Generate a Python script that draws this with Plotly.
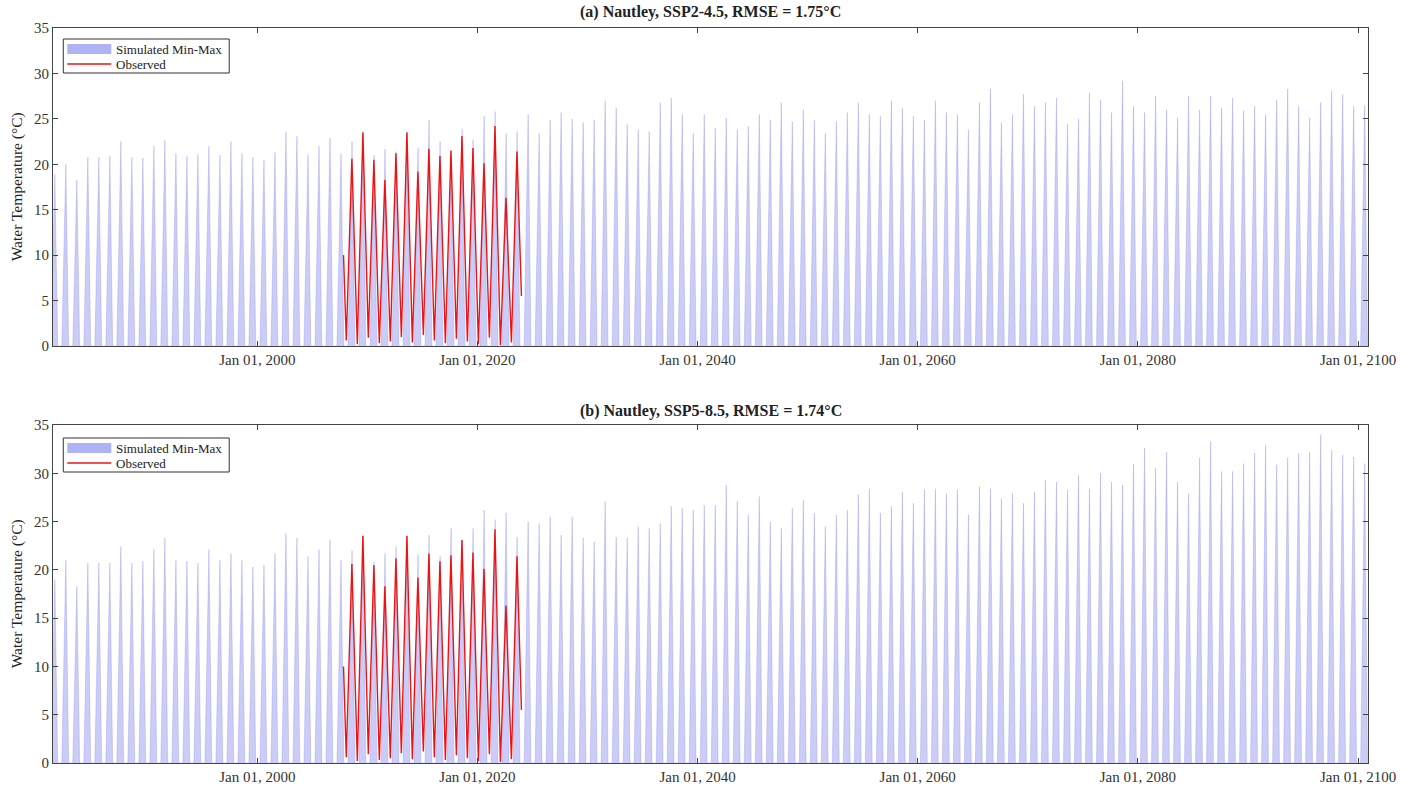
import plotly.graph_objects as go

# ---------------- data ----------------
sim_years = list(range(1981, 2101))

peak_ssp245 = [
    18.9, 20.0, 18.3, 20.8, 20.8, 20.9, 22.5, 20.8, 20.7, 22.0,
    22.7, 21.2, 20.9, 21.1, 22.0, 21.0, 22.5, 21.2, 20.8, 20.5,
    21.3, 23.6, 23.1, 21.1, 22.0, 22.9, 21.2, 22.5, 23.6, 21.0,
    21.7, 21.4, 23.6, 21.8, 24.9, 22.5, 21.6, 23.9, 22.7, 25.3,
    25.8, 23.4, 23.6, 25.5, 23.4, 24.9, 25.7, 25.0, 24.6, 24.9,
    27.0, 26.2, 24.4, 23.8, 23.6, 26.8, 27.3, 25.5, 23.4, 25.5,
    24.0, 25.1, 23.8, 24.2, 25.5, 24.9, 26.8, 24.7, 26.0, 24.9,
    23.4, 24.7, 25.7, 26.8, 25.5, 25.3, 27.0, 26.2, 25.3, 24.9,
    27.0, 25.7, 25.5, 23.8, 26.8, 28.3, 24.6, 25.5, 27.7, 26.4,
    26.8, 27.3, 24.4, 25.0, 27.9, 27.1, 25.7, 29.2, 26.4, 25.7,
    27.5, 26.0, 25.1, 27.5, 26.0, 27.5, 26.2, 27.3, 25.9, 26.4,
    25.5, 27.1, 28.3, 26.4, 25.1, 26.8, 28.1, 27.7, 26.4, 26.5,
]

peak_ssp585 = [
    19.0, 21.0, 18.3, 20.7, 20.7, 20.7, 22.4, 20.7, 20.9, 22.1,
    23.3, 21.0, 20.9, 20.7, 22.1, 21.0, 21.7, 21.0, 20.3, 20.5,
    21.7, 23.8, 23.3, 21.4, 22.1, 23.1, 21.0, 22.0, 23.6, 20.8,
    21.7, 22.4, 23.6, 21.6, 23.6, 21.4, 24.3, 23.1, 24.3, 26.2,
    25.2, 25.9, 23.4, 25.0, 24.8, 25.5, 23.6, 25.5, 23.3, 22.9,
    27.1, 23.4, 23.3, 24.5, 24.3, 24.8, 26.6, 26.4, 26.2, 26.7,
    26.7, 28.8, 27.1, 25.7, 27.6, 25.0, 24.3, 26.4, 27.2, 25.9,
    24.5, 25.7, 26.2, 27.8, 28.4, 25.9, 26.6, 28.1, 26.9, 28.3,
    28.4, 27.9, 28.3, 25.7, 28.6, 28.4, 27.4, 27.9, 26.9, 28.1,
    29.3, 29.1, 28.3, 29.8, 28.4, 30.0, 29.1, 28.8, 31.0, 32.6,
    30.5, 32.2, 29.1, 27.9, 31.6, 33.3, 30.2, 30.2, 31.0, 32.1,
    32.9, 30.9, 31.6, 32.1, 32.2, 34.0, 32.4, 31.9, 31.7, 31.0,
]

obs_years = list(range(2008, 2024))
obs_peak = [20.6, 23.5, 20.5, 18.3, 21.2, 23.5, 19.2, 21.7,
            20.9, 21.5, 23.1, 21.8, 20.1, 24.2, 16.3, 21.4]
obs_winter_min = [0.6, 0.2, 0.9, 0.3, 0.5, 1.0, 0.4, 1.2,
                  0.6, 0.3, 0.8, 0.5, 0.2, 0.9, 0.1, 0.4]
obs_start = ("2007-11-01", 10.0)
obs_end = ("2023-12-31", 5.5)

panel_titles = ["(a) Nautley, SSP2-4.5, RMSE = 1.75°C",
                "(b) Nautley, SSP5-8.5, RMSE = 1.74°C"]
legend_labels = ["Simulated Min-Max", "Observed"]
tick_years = [2000, 2020, 2040, 2060, 2080, 2100]
tick_labels = [f"Jan 01, {y}" for y in tick_years]

# ---------------- build marks ----------------
def band_xy(years, peaks):
    xs, ys = [], []
    for yr, pk in zip(years, peaks):
        xs += [f"{yr}-03-28", f"{yr}-08-10", f"{yr}-11-12"]
        ys += [0.0, pk, 0.0]
    return xs, ys

def obs_xy():
    xs, ys = [obs_start[0]], [obs_start[1]]
    for yr, mn, pk in zip(obs_years, obs_winter_min, obs_peak):
        xs += [f"{yr}-02-01", f"{yr}-08-05"]
        ys += [mn, pk]
    xs.append(obs_end[0]); ys.append(obs_end[1])
    return xs, ys

SERIF = "Liberation Serif, Times New Roman, serif"
FILL = "rgba(125,130,235,0.4)"
RED = "rgb(235,20,20)"

fig = go.Figure()
ox, oy = obs_xy()
for i, peaks in enumerate([peak_ssp245, peak_ssp585]):
    ax = "" if i == 0 else "2"
    bx, by = band_xy(sim_years, peaks)
    fig.add_trace(go.Scatter(
        x=bx, y=by, mode="lines", fill="tozeroy", fillcolor=FILL,
        line=dict(color="rgba(120,125,235,0.45)", width=0.6),
        name=legend_labels[0], showlegend=False,
        xaxis="x" + ax, yaxis="y" + ax))
    fig.add_trace(go.Scatter(
        x=ox, y=oy, mode="lines", line=dict(color=RED, width=1.4),
        name=legend_labels[1], showlegend=False,
        xaxis="x" + ax, yaxis="y" + ax))

W, H = 1413, 788
L, R, T, B = 52.7, 1368.3, 28, 763  # plot box in page px
ml, mr, mt, mb = L, W - R, T, H - B
ph = H - mt - mb
pw = W - ml - mr
def py(px):
    return (B - px) / ph
def pxx(px):
    return (px - L) / pw

axis_common = dict(showline=True, linecolor="#444", linewidth=1, mirror="ticks",
                   ticks="inside", ticklen=5, tickcolor="#444",
                   showgrid=False, zeroline=False, automargin=False,
                   tickfont=dict(family=SERIF, size=15, color="#333"))

xr = ["1981-06-10", "2100-11-28"]
tickvals = [f"{y}-01-01" for y in tick_years]
fig.update_layout(
    width=W, height=H, paper_bgcolor="white", plot_bgcolor="white",
    margin=dict(l=ml, r=mr, t=mt, b=mb, autoexpand=False),
    xaxis=dict(domain=[0, 1], anchor="y", range=xr, type="date",
               tickvals=tickvals, ticktext=tick_labels, **axis_common),
    yaxis=dict(domain=[py(346), 1], anchor="x", range=[0, 35], dtick=5, **axis_common),
    xaxis2=dict(domain=[0, 1], anchor="y2", range=xr, type="date",
                tickvals=tickvals, ticktext=tick_labels, **axis_common),
    yaxis2=dict(domain=[0, py(425)], anchor="x2", range=[0, 35], dtick=5, **axis_common),
    showlegend=False,
)

annots, shapes = [], []
panels = [(panel_titles[0], 12, 187, 39), (panel_titles[1], 411, 594, 438)]
for title, ytop, ymid, legtop in panels:
    annots.append(dict(text=f"<b>{title}</b>", xref="paper", yref="paper",
                       x=0.5, y=py(ytop), xanchor="center", yanchor="middle",
                       showarrow=False, font=dict(family=SERIF, size=16, color="#222")))
    annots.append(dict(text="Water Temperature (°C)", xref="paper", yref="paper",
                       x=pxx(17), y=py(ymid), xanchor="center", yanchor="middle",
                       textangle=-90, showarrow=False,
                       font=dict(family=SERIF, size=15.5, color="#222")))
    # legend box
    shapes.append(dict(type="rect", xref="paper", yref="paper",
                       x0=pxx(63), x1=pxx(229), y0=py(legtop + 34), y1=py(legtop),
                       line=dict(color="#333", width=1), fillcolor="white", layer="above"))
    shapes.append(dict(type="rect", xref="paper", yref="paper",
                       x0=pxx(67), x1=pxx(111), y0=py(legtop + 15), y1=py(legtop + 5),
                       line=dict(width=0), fillcolor="rgb(175,178,245)", layer="above"))
    shapes.append(dict(type="line", xref="paper", yref="paper",
                       x0=pxx(67), x1=pxx(111), y0=py(legtop + 25), y1=py(legtop + 25),
                       line=dict(color=RED, width=1.4), layer="above"))
    for k, lab in enumerate(legend_labels):
        annots.append(dict(text=lab, xref="paper", yref="paper",
                           x=pxx(114), y=py(legtop + 10 + 15 * k),
                           xanchor="left", yanchor="middle", showarrow=False,
                           font=dict(family=SERIF, size=13, color="#222")))
fig.update_layout(annotations=annots, shapes=shapes)

fig.write_html("out.html", config={"displayModeBar": False},
               post_script="document.body.style.margin='0';")
